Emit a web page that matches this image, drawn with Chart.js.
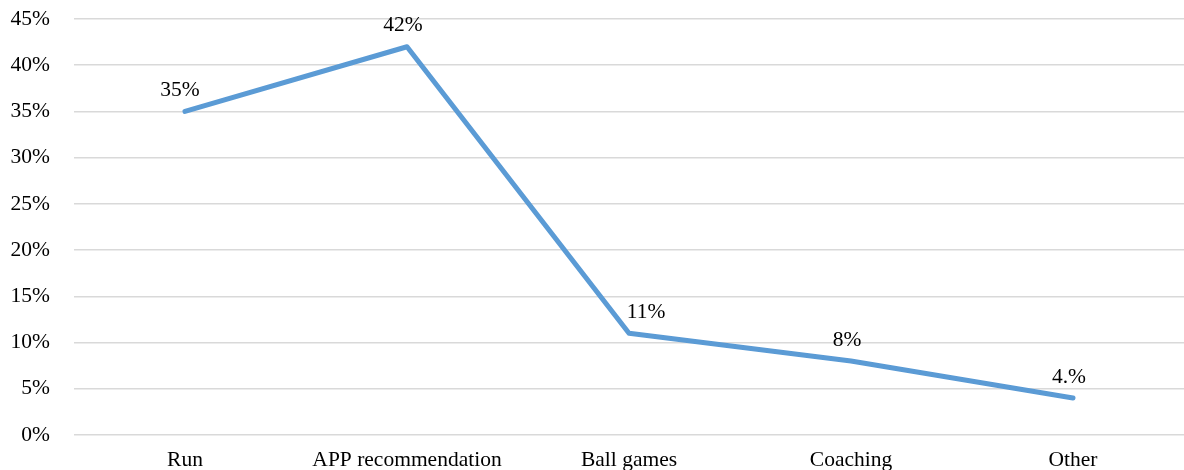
<!DOCTYPE html>
<html>
<head>
<meta charset="utf-8">
<script src="https://cdn.jsdelivr.net/npm/chart.js@4/dist/chart.umd.min.js"></script>
<style>
  html, body { margin: 0; padding: 0; background: #fff; }
  #wrap { width: 1184px; height: 470px; }
</style>
</head>
<body>
<div id="wrap"><canvas id="line-chart" width="1184" height="470"></canvas></div>
<script>
const categories = ["Run", "APP recommendation", "Ball games", "Coaching", "Other"];
const shares = [35, 42, 11, 8, 4];
const shareLabels = ["35%", "42%", "11%", "8%", "4.%"];
const yTicks = [0, 5, 10, 15, 20, 25, 30, 35, 40, 45];

const serif = "'Liberation Serif', 'Times New Roman', serif";
const fontSize = 21.5;

// writes the value text just above each point
const pointLabels = {
  id: "pointLabels",
  afterDatasetsDraw(chart) {
    const ctx = chart.ctx;
    const meta = chart.getDatasetMeta(0);
    ctx.save();
    ctx.font = fontSize + "px " + serif;
    ctx.fillStyle = "#000";
    ctx.textAlign = "center";
    ctx.textBaseline = "middle";
    meta.data.forEach((pt, i) => {
      const dx = i === 2 ? 17 : (i === 0 ? -5 : -4);
      ctx.fillText(shareLabels[i], pt.x + dx, pt.y - 21);
    });
    ctx.restore();
  }
};

const lineCtx = document.getElementById("line-chart").getContext("2d");
new Chart(lineCtx, {
  type: 'line',
  data: {
    labels: categories,
    datasets: [{
      data: shares,
      borderColor: '#5b9bd5',
      borderWidth: 5,
      borderCapStyle: 'round',
      borderJoinStyle: 'round',
      pointRadius: 0,
      fill: false,
      tension: 0
    }]
  },
  options: {
    responsive: false,
    animation: false,
    layout: { padding: { top: 19, right: 0, left: 0, bottom: 0 } },
    plugins: { legend: { display: false }, tooltip: { enabled: false } },
    scales: {
      x: {
        offset: true,
        grid: { display: false, drawTicks: false },
        border: { display: false },
        ticks: { font: { family: serif, size: fontSize }, color: '#000', padding: 12, maxRotation: 0 },
        afterFit(scale) {
          scale.height = 35;
          scale.paddingLeft = 0;
          scale.paddingRight = 0;
        }
      },
      y: {
        min: 0,
        max: 45,
        afterBuildTicks(scale) { scale.ticks = yTicks.map(v => ({ value: v })); },
        grid: { color: '#d9d9d9', lineWidth: 1.5, drawTicks: false },
        border: { display: false },
        ticks: {
          font: { family: serif, size: fontSize },
          color: '#000',
          padding: 24,
          callback: v => v + '%'
        },
        afterFit(scale) {
          scale.width = 74;
          scale.paddingTop = 0;
          scale.paddingBottom = 0;
        }
      }
    }
  },
  plugins: [pointLabels]
});
</script>
</body>
</html>
